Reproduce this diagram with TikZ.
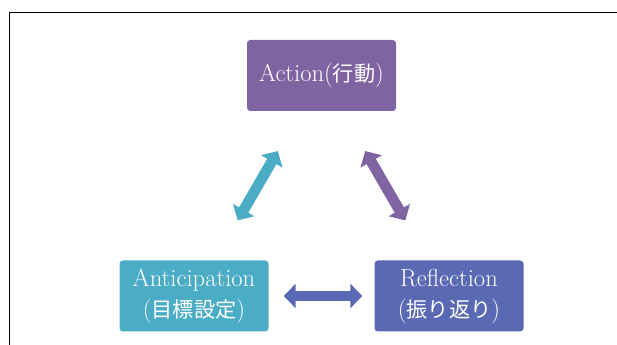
\documentclass[tikz,border=0pt]{standalone}
\usepackage{fontspec}
\newfontfamily\jpfont{Noto Sans CJK JP}[Scale=0.86]
\usepackage{tikz}
\usetikzlibrary{arrows.meta}
\definecolor{actpurple}{HTML}{8064A2}
\definecolor{antteal}{HTML}{4BACC6}
\definecolor{refblue}{HTML}{5A69B4}

\begin{document}
\begin{tikzpicture}[x=0.3mm, y=-0.3mm,
    every node/.style={font=\fontsize{21}{26.5}\selectfont, text=white},
    box/.style={rounded corners=1mm, minimum width=44.7mm, minimum height=21.3mm, align=center, inner sep=0pt},
    twoway/.style={line width=3.2mm, {Triangle[length=3.6mm,width=7.2mm]}-{Triangle[length=3.6mm,width=7.2mm]}}]
  \useasboundingbox (0,0) rectangle (617,345);
  \draw[line width=0.8pt] (617,12.5) -| (9.5,345);
  % the three stages
  \node[box, fill=actpurple] (act) at (321.5,75.5) {Action({\jpfont 行動})};
  \node[box, fill=antteal]   (ant) at (194,296)    {Anticipation\\({\jpfont 目標設定})};
  \node[box, fill=refblue]   (ref) at (449,296)    {Reflection\\({\jpfont 振り返り})};
  % two-way links
  \draw[twoway, antteal,   shorten <=13.8mm, shorten >=13.8mm] (ant) -- (act);
  \draw[twoway, actpurple, shorten <=13.8mm, shorten >=13.8mm] (act) -- (ref);
  \draw[twoway, refblue,   shorten <=4.5mm,  shorten >=3.6mm]  (ant) -- (ref);
\end{tikzpicture}
\end{document}
